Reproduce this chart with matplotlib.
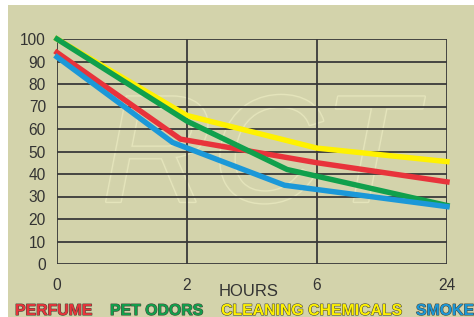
import matplotlib
matplotlib.use("Agg")
import matplotlib.pyplot as plt
import matplotlib.patheffects as pe
from matplotlib.patches import Rectangle

# ---- data ----
hour_labels = ["0", "2", "6", "24"]
tick_pos = [0, 1, 2, 3]
y_ticks = list(range(0, 101, 10))

cleaning_x = [0, 1.0, 2.0, 3]
cleaning_y = [100, 66, 51.5, 45.5]
perfume_x = [0, 0.95, 2.0, 3]
perfume_y = [94, 55.5, 45, 36.5]
pet_x = [0, 1.0, 1.77, 3]
pet_y = [100, 63.5, 42, 26]
smoke_x = [0, 0.89, 1.75, 3]
smoke_y = [92, 54, 35, 25.5]

legend_names = ["PERFUME", "PET ODORS", "CLEANING CHEMICALS", "SMOKE"]

# ---- style ----
bg = "#d3d3ab"
grid_c = "#3a3a3a"
c_red = "#e8333b"
c_green = "#10a04c"
c_yellow = "#fff200"
c_blue = "#1b98d8"

W, H = 474, 317
fig = plt.figure(figsize=(W / 100, H / 100), dpi=100)
fig.patch.set_facecolor("white")
fig.patches.append(Rectangle((8 / W, 0), 1, (H - 5) / H, transform=fig.transFigure,
                             facecolor=bg, edgecolor="none", zorder=-10))

ax = fig.add_axes([57 / W, 53 / H, 390 / W, 225 / H])
ax.set_facecolor("none")
ax.set_xlim(0, 3)
ax.set_ylim(0, 100)

# watermark
ax.text(1.55, 45, "RCT", fontsize=110, fontstyle="italic", family="Liberation Sans",
        color=bg, ha="center", va="center", zorder=0,
        path_effects=[pe.withStroke(linewidth=2, foreground="#e6e6bd")], alpha=0.9)

for y in y_ticks:
    ax.axhline(y, color=grid_c, lw=1.3, zorder=1)
for x in tick_pos:
    ax.axvline(x, color=grid_c, lw=1.3, zorder=1)

lw = 3.9
ax.plot(cleaning_x, cleaning_y, color=c_yellow, lw=lw, zorder=3, clip_on=False, solid_joinstyle="miter")
ax.plot(perfume_x, perfume_y, color=c_red, lw=lw, zorder=4, clip_on=False, solid_joinstyle="miter")
ax.plot(pet_x, pet_y, color=c_green, lw=lw, zorder=5, clip_on=False, solid_joinstyle="miter")
ax.plot(smoke_x, smoke_y, color=c_blue, lw=lw, zorder=6, clip_on=False, solid_joinstyle="miter")

for s in ax.spines.values():
    s.set_visible(False)

ax.set_xticks(tick_pos)
ax.set_xticklabels(hour_labels)
ax.set_yticks(y_ticks)
ax.tick_params(length=0, labelsize=11.2, labelcolor="#333333")
ax.tick_params(axis="y", pad=8)
ax.tick_params(axis="x", pad=10)
for lab in ax.get_xticklabels() + ax.get_yticklabels():
    lab.set_family("Liberation Sans")

fig.text(249 / W, 1 - 296 / H, "HOURS", fontsize=12, family="Liberation Sans",
         color="#333333", ha="center", va="baseline")

leg_x = [15, 110, 221, 416]
leg_c = [c_red, c_green, c_yellow, c_blue]
for name, x, c in zip(legend_names, leg_x, leg_c):
    fig.text(x / W, 1 - 315 / H, name, fontsize=11.4, family="Liberation Sans",
             fontweight="bold", color=c, ha="left", va="baseline",
             path_effects=[pe.withStroke(linewidth=0.8, foreground="#4a4a3a")])

fig.savefig("out.png", dpi=100, facecolor=fig.get_facecolor())
